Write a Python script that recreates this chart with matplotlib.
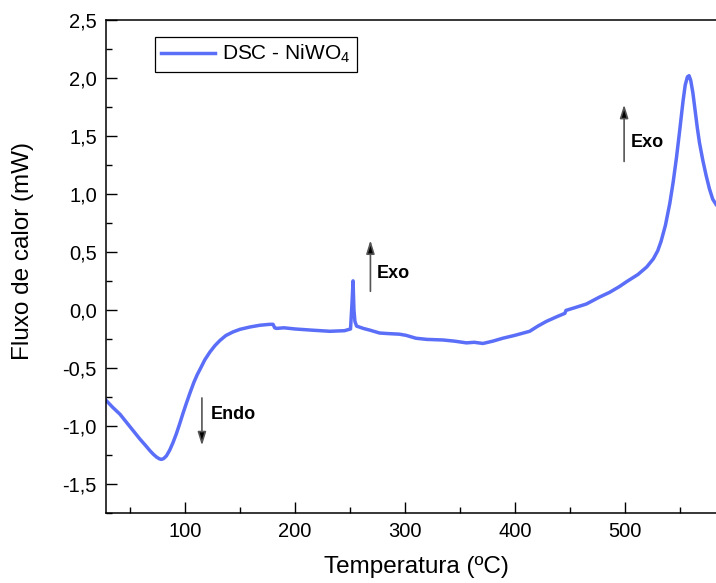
import matplotlib
matplotlib.use("Agg")
import matplotlib.pyplot as plt
from matplotlib.ticker import MultipleLocator, FuncFormatter

plt.rcParams["font.family"] = ["Liberation Sans", "DejaVu Sans"]
plt.rcParams["mathtext.default"] = "regular"

# DSC curve
temperature = [28, 34, 40.7, 50, 58.9, 64, 68, 71, 74, 76.5, 78.5, 80.5, 83, 86, 89, 92,
               95, 98, 101, 104.5, 108, 111, 114, 118, 122.5, 127, 131.6, 137, 143.7, 150,
               159, 168, 177, 180, 181.5, 183, 190, 200, 215, 231.6, 245, 250.5, 251.8,
               252.8, 253.6, 254.5, 256, 262, 268, 277, 285, 295, 301, 310, 320, 334.6, 345,
               356, 363, 371, 380, 389, 400, 413.5, 421, 428.6, 438, 445.5, 446.5, 455, 465,
               477, 486, 495, 502, 512, 520, 526, 530, 533, 537, 541, 544, 547, 550, 553,
               555, 557, 558.5, 560, 562, 564, 566, 568, 571, 574, 577, 580, 583]
heat_flow = [-0.78, -0.84, -0.90, -1.01, -1.115, -1.17, -1.215, -1.245, -1.27, -1.285,
             -1.29, -1.283, -1.26, -1.21, -1.145, -1.07, -0.985, -0.895, -0.81, -0.715,
             -0.625, -0.56, -0.505, -0.43, -0.365, -0.31, -0.265, -0.222, -0.19, -0.168,
             -0.148, -0.133, -0.125, -0.125, -0.155, -0.16, -0.155, -0.165, -0.175, -0.185,
             -0.18, -0.165, 0.05, 0.25, 0.0, -0.10, -0.14, -0.16, -0.175, -0.20, -0.205,
             -0.21, -0.22, -0.245, -0.255, -0.26, -0.27, -0.285, -0.28, -0.29, -0.27, -0.245,
             -0.22, -0.185, -0.14, -0.10, -0.06, -0.03, -0.005, 0.02, 0.05, 0.11, 0.15, 0.20,
             0.245, 0.305, 0.37, 0.44, 0.51, 0.59, 0.73, 0.92, 1.10, 1.31, 1.55, 1.80, 1.94,
             2.01, 2.02, 1.98, 1.87, 1.72, 1.57, 1.44, 1.29, 1.16, 1.045, 0.955, 0.91]

# annotations: (label, arrow x, tail y, head y, text x, text y)
arrows = [
    ("Endo", 115.3, -0.76, -1.17, 123.5, -0.90),
    ("Exo", 268.6, 0.16, 0.60, 274, 0.31),
    ("Exo", 499.4, 1.28, 1.77, 505, 1.44),
]

fig = plt.figure(figsize=(7.16, 5.83), dpi=100)
ax = fig.add_axes([0.148, 0.1206, 0.852, 0.845])

ax.plot(temperature, heat_flow, color="#5b6ef7", lw=2.5, label="DSC - NiWO$_4$",
        solid_joinstyle="round")

for label, xa, y0, y1, xt, yt in arrows:
    ax.annotate("", xy=(xa, y1), xytext=(xa, y0),
                arrowprops=dict(arrowstyle="-|>,head_length=0.8,head_width=0.25",
                                ec="#555555", fc="black", lw=1.2,
                                shrinkA=0, shrinkB=0, mutation_scale=10))
    ax.text(xt, yt, label, fontsize=13, fontweight="bold", va="center", ha="left")

ax.set_xlim(28, 583)
ax.set_ylim(-1.75, 2.5)
ax.xaxis.set_major_locator(MultipleLocator(100))
ax.xaxis.set_minor_locator(MultipleLocator(50))
ax.yaxis.set_major_locator(MultipleLocator(0.5))
ax.yaxis.set_minor_locator(MultipleLocator(0.25))
ax.yaxis.set_major_formatter(FuncFormatter(lambda v, p: f"{v:.1f}".replace(".", ",")))
ax.xaxis.set_major_formatter(FuncFormatter(lambda v, p: f"{v:.0f}"))

ax.tick_params(which="both", direction="in", labelsize=14.5, width=1, pad=6.5,
               top=False, right=False)
ax.tick_params(which="major", length=8)
ax.tick_params(which="minor", length=4)
ax.spines["right"].set_visible(False)
for s in ["left", "bottom", "top"]:
    ax.spines[s].set_linewidth(1.1)

ax.set_xlabel("Temperatura (ºC)", fontsize=17.5)
ax.set_ylabel("Fluxo de calor (mW)", fontsize=17.5)
ax.xaxis.set_label_coords(0.509, -0.088)
ax.yaxis.set_label_coords(-0.118, 0.531)

leg = ax.legend(loc="upper left", bbox_to_anchor=(0.080, 0.966), borderaxespad=0,
                fontsize=15, fancybox=False, edgecolor="black", framealpha=1,
                handlelength=2.6, handletextpad=0.35, borderpad=0.3)
leg.get_frame().set_linewidth(0.9)

plt.savefig("out.png", dpi=100)
